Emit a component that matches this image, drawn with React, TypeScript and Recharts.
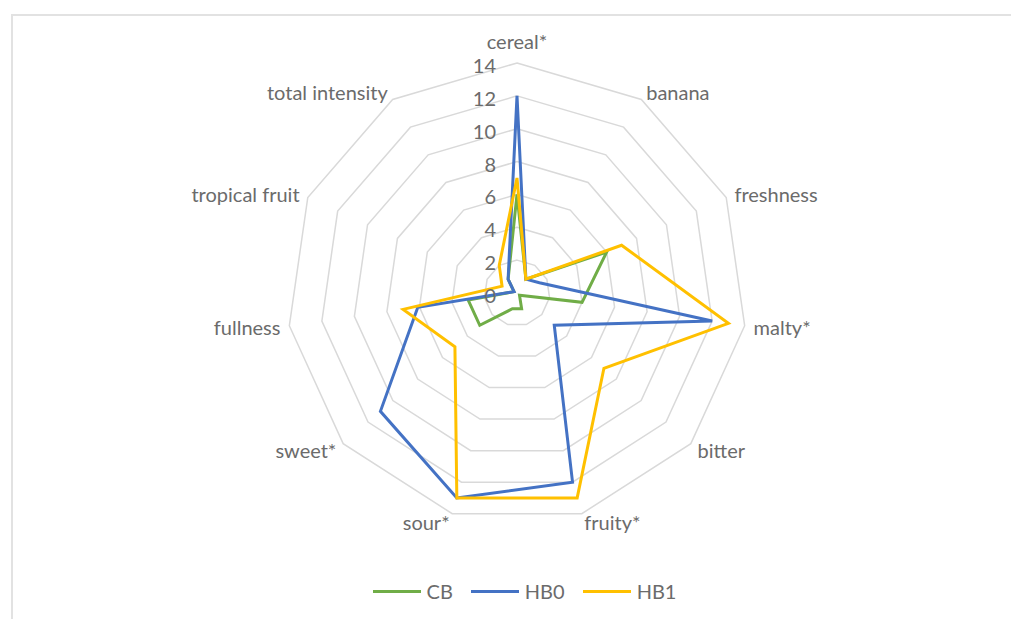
import { Legend, PolarAngleAxis, PolarGrid, PolarRadiusAxis, Radar, RadarChart } from "recharts";

const categories = [
  "cereal*",
  "banana",
  "freshness",
  "malty*",
  "bitter",
  "fruity*",
  "sour*",
  "sweet*",
  "fullness",
  "tropical fruit",
  "total intensity",
];
const cb = [6, 1, 6, 4, 0.2, 1, 1, 3, 3, 0.2, 1];
const hb0 = [12, 1, 1.5, 12, 3, 12, 13, 11, 6.1, 0.2, 1];
const hb1 = [7, 1, 7, 13, 7, 13, 13, 5, 7, 1, 2];
const radiusTicks = [0, 2, 4, 6, 8, 10, 12, 14];

const data = categories.map((name, i) => ({ name, CB: cb[i], HB0: hb0[i], HB1: hb1[i] }));

const series = [
  { key: "CB", color: "#70AD47" },
  { key: "HB0", color: "#4472C4" },
  { key: "HB1", color: "#FFC000" },
];

const CX = 517;
const CY = 293;
const FONT = "Lato, 'Open Sans', sans-serif";
const TEXT = "#6b6b6b";

function AngleTick(props: any) {
  const { x, y, payload, textAnchor } = props;
  const top = Math.abs(x - CX) < 1 && y < CY;
  return (
    <text
      x={x}
      y={top ? y - 13 : y}
      textAnchor={top ? "middle" : textAnchor}
      dominantBaseline="central"
      fill={TEXT}
      fontSize={20}
      fontFamily={FONT}
    >
      {payload.value}
    </text>
  );
}

function RadiusTick(props: any) {
  const { x, y, payload } = props;
  return (
    <text
      x={x - 21}
      y={y + 2}
      textAnchor="end"
      dominantBaseline="central"
      fill={TEXT}
      fontSize={20}
      fontFamily={FONT}
    >
      {payload.value}
    </text>
  );
}

function LegendContent() {
  return (
    <div
      style={{
        display: "flex",
        justifyContent: "center",
        alignItems: "center",
        gap: 18,
        paddingLeft: 38,
        fontFamily: FONT,
        fontSize: 20,
        color: TEXT,
      }}
    >
      {series.map((s) => (
        <div key={s.key} style={{ display: "flex", alignItems: "center" }}>
          <span style={{ width: 48, height: 3, background: s.color, marginRight: 6 }} />
          <span>{s.key}</span>
        </div>
      ))}
    </div>
  );
}

export default function App() {
  return (
    <div style={{ position: "absolute", left: 0, top: 0, width: 1011, height: 619, background: "#fff" }}>
      <div
        style={{
          position: "absolute",
          left: 11,
          top: 14,
          width: 1000,
          height: 605,
          borderTop: "2px solid #e2e2e2",
          borderLeft: "2px solid #e2e2e2",
          boxSizing: "border-box",
        }}
      />
      <RadarChart
        width={1011}
        height={619}
        data={data}
        cx={CX}
        cy={CY}
        outerRadius={230}
        margin={{ top: 0, right: 0, bottom: 0, left: 0 }}
      >
        <PolarGrid gridType="polygon" radialLines={false} stroke="#d9d9d9" strokeWidth={1.5} />
        <PolarAngleAxis dataKey="name" tick={<AngleTick />} tickLine={false} axisLine={false} tickSize={9} />
        <PolarRadiusAxis
          angle={90}
          domain={[radiusTicks[0], radiusTicks[radiusTicks.length - 1]]}
          tickCount={radiusTicks.length}
          tick={<RadiusTick />}
          axisLine={false}
          tickLine={false}
        />
        {series.map((s) => (
          <Radar
            key={s.key}
            dataKey={s.key}
            stroke={s.color}
            strokeWidth={3}
            fill="none"
            fillOpacity={0}
            dot={false}
            isAnimationActive={false}
          />
        ))}
        <Legend
          content={<LegendContent />}
          wrapperStyle={{ position: "absolute", top: 579, left: 0, width: 1011 }}
        />
      </RadarChart>
    </div>
  );
}
